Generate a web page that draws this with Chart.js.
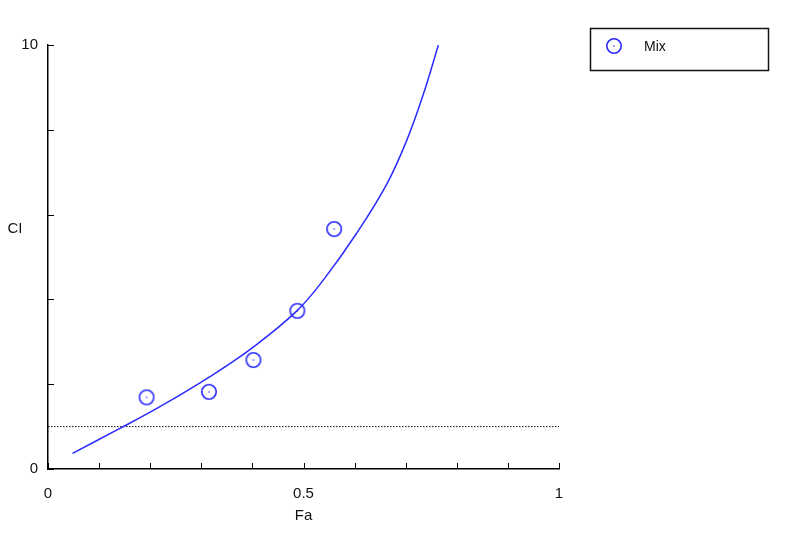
<!DOCTYPE html>
<html lang="en">
<head>
    <meta charset="UTF-8">
    <title>CI vs Fa</title>
    <script src="https://cdn.jsdelivr.net/npm/chart.js"></script>
    <style>
        body {
            margin: 0;
            background: #ffffff;
        }
        .wrap {
            width: 785px;
            height: 545px;
        }
    </style>
</head>
<body>
    <div class="wrap">
        <canvas id="ciChart" width="785" height="545"></canvas>
    </div>

    <script>
        // measured points (Mix)
        const mixFa = [0.193, 0.315, 0.402, 0.488, 0.560];
        const mixCI = [1.69, 1.82, 2.57, 3.73, 5.66];

        // fitted curve
        const curveFa = [0.048, 0.138, 0.219, 0.317, 0.401, 0.487, 0.539, 0.604, 0.663, 0.702, 0.734, 0.764];
        const curveCI = [0.37, 0.94, 1.47, 2.18, 2.87, 3.73, 4.46, 5.56, 6.72, 7.75, 8.82, 10.0];

        // CI = 1 reference line
        const refFa = [0, 1];
        const refCI = [1, 1];

        const xLabels = [0, 0.5, 1];
        const yLabels = [0, 10];

        const blue = '#2b2bff';
        const font = 'Arial, "Liberation Sans", sans-serif';

        // circle marker with a dot in the middle
        const marker = document.createElement('canvas');
        marker.width = 20;
        marker.height = 20;
        const mctx = marker.getContext('2d');
        mctx.strokeStyle = blue;
        mctx.lineWidth = 1.6;
        mctx.beginPath();
        mctx.arc(10, 10, 7.2, 0, Math.PI * 2);
        mctx.stroke();
        mctx.fillStyle = blue;
        mctx.fillRect(9.4, 9.4, 1.3, 1.3);

        const toXY = (xs, ys) => xs.map((x, i) => ({ x: x, y: ys[i] }));
        const near = (v, list) => list.some(l => Math.abs(l - v) < 1e-6);

        const extras = {
            id: 'extras',
            afterDraw(chart) {
                const c = chart.ctx;
                const xs = chart.scales.x;
                const ys = chart.scales.y;
                const area = chart.chartArea;
                c.save();
                c.strokeStyle = '#000';
                c.lineWidth = 1;
                // inward ticks
                xs.ticks.forEach(t => {
                    const px = Math.round(xs.getPixelForValue(t.value)) + 0.5;
                    c.beginPath();
                    c.moveTo(px, area.bottom);
                    c.lineTo(px, area.bottom - 6);
                    c.stroke();
                });
                ys.ticks.forEach(t => {
                    const py = Math.round(ys.getPixelForValue(t.value)) + 0.5;
                    c.beginPath();
                    c.moveTo(area.left, py);
                    c.lineTo(area.left + 6, py);
                    c.stroke();
                });
                // axis titles
                c.fillStyle = '#111';
                c.font = '15px ' + font;
                c.textAlign = 'center';
                c.textBaseline = 'middle';
                c.fillText('CI', 15, 229);
                c.fillText('Fa', xs.getPixelForValue(0.5), 516);
                // legend box
                c.lineWidth = 1.5;
                c.strokeStyle = '#111';
                c.strokeRect(590.5, 28.5, 178, 42);
                c.drawImage(marker, 604, 36);
                c.textAlign = 'left';
                c.font = '14px ' + font;
                c.fillText(chart.data.datasets[0].label, 644, 47);
                c.restore();
            }
        };

        const ctx = document.getElementById('ciChart').getContext('2d');
        new Chart(ctx, {
            type: 'scatter',
            data: {
                datasets: [{
                    label: 'Mix',
                    data: toXY(mixFa, mixCI),
                    pointStyle: marker,
                    pointRadius: 10,
                    showLine: false
                }, {
                    label: 'curve',
                    data: toXY(curveFa, curveCI),
                    showLine: true,
                    borderColor: blue,
                    borderWidth: 1.5,
                    pointRadius: 0,
                    tension: 0.4
                }, {
                    label: 'ref',
                    data: toXY(refFa, refCI),
                    showLine: true,
                    borderColor: '#111',
                    borderWidth: 1,
                    borderDash: [1.5, 1.5],
                    pointRadius: 0
                }]
            },
            options: {
                responsive: false,
                animation: false,
                layout: {
                    padding: { left: 0, right: 226, top: 45, bottom: 0 }
                },
                plugins: {
                    legend: { display: false },
                    tooltip: { enabled: false }
                },
                scales: {
                    x: {
                        type: 'linear',
                        min: 0,
                        max: 1,
                        afterFit: s => { s.height = 76; },
                        border: { display: true, color: '#000', width: 1.5 },
                        grid: { drawOnChartArea: false, drawTicks: false },
                        ticks: {
                            stepSize: 0.1,
                            autoSkip: false,
                            maxRotation: 0,
                            padding: 16,
                            color: '#111',
                            font: { family: font, size: 15 },
                            callback: v => near(v, xLabels) ? String(Math.round(v * 10) / 10) : ''
                        }
                    },
                    y: {
                        type: 'linear',
                        min: 0,
                        max: 10,
                        afterFit: s => { s.width = 48; },
                        border: { display: true, color: '#000', width: 1.5 },
                        grid: { drawOnChartArea: false, drawTicks: false },
                        ticks: {
                            stepSize: 2,
                            autoSkip: false,
                            padding: 10,
                            color: '#111',
                            font: { family: font, size: 15 },
                            callback: v => near(v, yLabels) ? String(v) : ''
                        }
                    }
                }
            },
            plugins: [extras]
        });
    </script>
</body>
</html>
